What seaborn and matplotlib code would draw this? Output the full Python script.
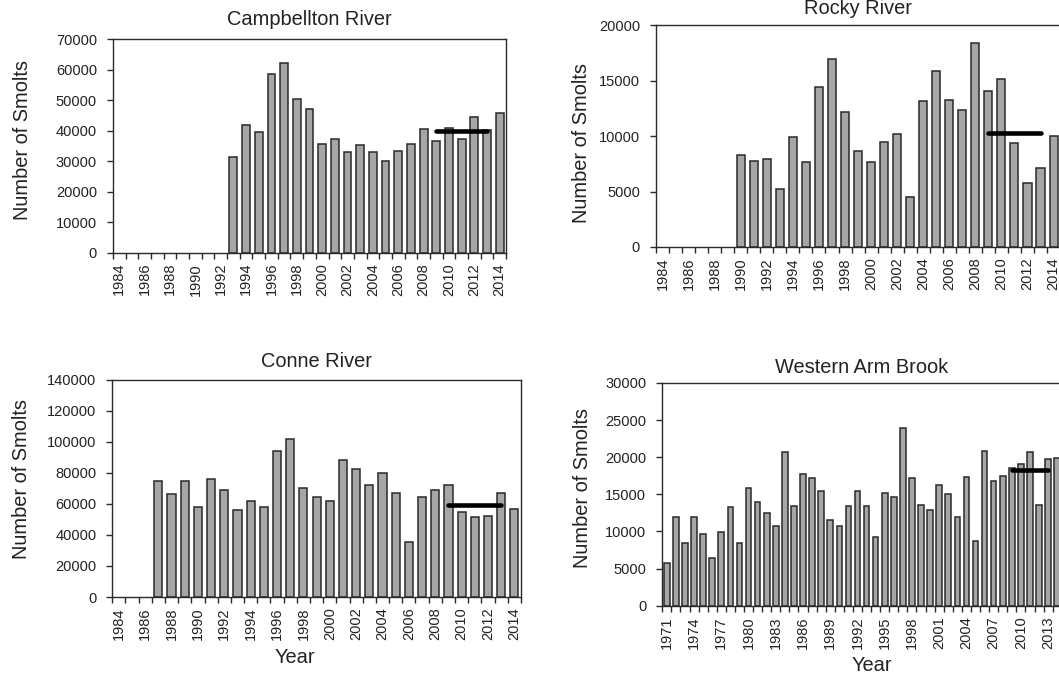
import numpy as np
import pandas as pd
import matplotlib
matplotlib.use("Agg")
import matplotlib.pyplot as plt
import seaborn as sns

sns.set_style("ticks")
plt.rcParams["font.family"] = ["Liberation Sans", "DejaVu Sans"]

# Smolt counts by river and year
campbellton_years = list(range(1993, 2015))
campbellton_smolts = [31400, 41900, 39500, 58600, 62000, 50400, 47200, 35700, 37200, 32800,
                      35200, 32800, 30000, 33300, 35700, 40500, 36600, 40900, 37200, 44300,
                      40200, 45700]

rocky_years = list(range(1990, 2015))
rocky_smolts = [8300, 7800, 7900, 5200, 9900, 7700, 14400, 17000, 12200, 8700,
                7700, 9500, 10200, 4500, 13200, 15900, 13300, 12400, 18400, 14100,
                15200, 9400, 5800, 7100, 10000]

conne_years = list(range(1987, 2015))
conne_smolts = [74400, 66000, 74400, 57800, 75700, 69000, 55700, 61500, 57800, 94300,
                101800, 70100, 64300, 61500, 87900, 82100, 71800, 80000, 67100, 35200,
                64300, 69000, 71800, 54900, 51200, 52100, 67100, 56800]

wab_years = list(range(1971, 2015))
wab_smolts = [5800, 12000, 8500, 11900, 9700, 6400, 9900, 13300, 8400, 15800,
              14000, 12500, 10700, 20700, 13400, 17800, 17200, 15400, 11500, 10700,
              13400, 15400, 13400, 9300, 15200, 14600, 24000, 17200, 13600, 12900,
              16200, 15000, 12000, 17400, 8700, 20900, 16800, 17500, 18500, 19100,
              20700, 13600, 19700, 19900]

axis_years_std = list(range(1984, 2015))
axis_years_wab = list(range(1971, 2015))
mean_years = list(range(2009, 2014))   # recent five-year mean

BAR = "#a6a6a6"
EDGE = "#2a2a2a"
TXT = "#222222"

fig = plt.figure(figsize=(10.59, 6.81), dpi=100)

panels = [
    dict(title="Campbellton River", yrs=campbellton_years, vals=campbellton_smolts,
         axis_years=axis_years_std, ymax=70000, ystep=10000, every=2,
         rect=[0.1067, 0.6292, 0.3711, 0.3135], tpad=10.0,
         ylab=(-0.207, 0.527), xlab=None),
    dict(title="Rocky River", yrs=rocky_years, vals=rocky_smolts,
         axis_years=axis_years_std, ymax=20000, ystep=5000, every=2,
         rect=[0.6195, 0.6373, 0.3815, 0.3253], tpad=8.3,
         ylab=(-0.162, 0.47), xlab=None),
    dict(title="Conne River", yrs=conne_years, vals=conne_smolts,
         axis_years=axis_years_std, ymax=140000, ystep=20000, every=2,
         rect=[0.1060, 0.1233, 0.3859, 0.3194], tpad=9.2,
         ylab=(-0.198, 0.543), xlab=(0.448, -0.234)),
    dict(title="Western Arm Brook", yrs=wab_years, vals=wab_smolts,
         axis_years=axis_years_wab, ymax=30000, ystep=5000, every=3,
         rect=[0.6254, 0.1106, 0.3772, 0.3270], tpad=7.0,
         ylab=(-0.176, 0.528), xlab=(0.524, -0.226)),
]

for p in panels:
    ax = fig.add_axes(p["rect"])
    df = pd.DataFrame({"Year": [str(y) for y in p["yrs"]], "Smolts": p["vals"]})
    order = [str(y) for y in p["axis_years"]]
    sns.barplot(data=df, x="Year", y="Smolts", order=order, color=BAR,
                saturation=1, edgecolor=EDGE, linewidth=1.1, width=0.62,
                errorbar=None, ax=ax)

    # five-year mean line (2009-2013)
    ref = [str(y) for y in mean_years]
    mean_val = df.loc[df["Year"].isin(ref), "Smolts"].mean()
    ax.plot([order.index(ref[0]), order.index(ref[-1])], [mean_val, mean_val],
            color="black", lw=3.3, solid_capstyle="round", zorder=5)

    n = len(order)
    ax.set_xlim(-0.5, n - 0.5)
    ax.set_ylim(0, p["ymax"])
    ax.set_yticks(np.arange(0, p["ymax"] + 1, p["ystep"]))

    ax.set_xticks(np.arange(-0.5, n, 1.0))
    lab_pos = np.arange(0, n, p["every"])
    ax.set_xticks(lab_pos, labels=[order[i] for i in lab_pos], minor=True)
    ax.tick_params(axis="x", which="major", length=4.5, width=1, color=EDGE,
                   labelbottom=False)
    ax.tick_params(axis="x", which="minor", length=0, pad=7.5, rotation=90,
                   labelsize=10.5, labelcolor=TXT)
    ax.tick_params(axis="y", length=4.5, width=1, color=EDGE, pad=7,
                   labelsize=10.5, labelcolor=TXT)

    for sp in ax.spines.values():
        sp.set_visible(True)
        sp.set_color(EDGE)
        sp.set_linewidth(1.0)

    ax.set_title(p["title"], fontsize=14.4, color=TXT, pad=p["tpad"])
    ax.set_ylabel("Number of Smolts", fontsize=14.4, color=TXT)
    ax.yaxis.set_label_coords(*p["ylab"])
    if p["xlab"] is not None:
        ax.set_xlabel("Year", fontsize=14.4, color=TXT)
        ax.xaxis.set_label_coords(*p["xlab"])
    else:
        ax.set_xlabel("")

fig.savefig("out.png", dpi=100)
